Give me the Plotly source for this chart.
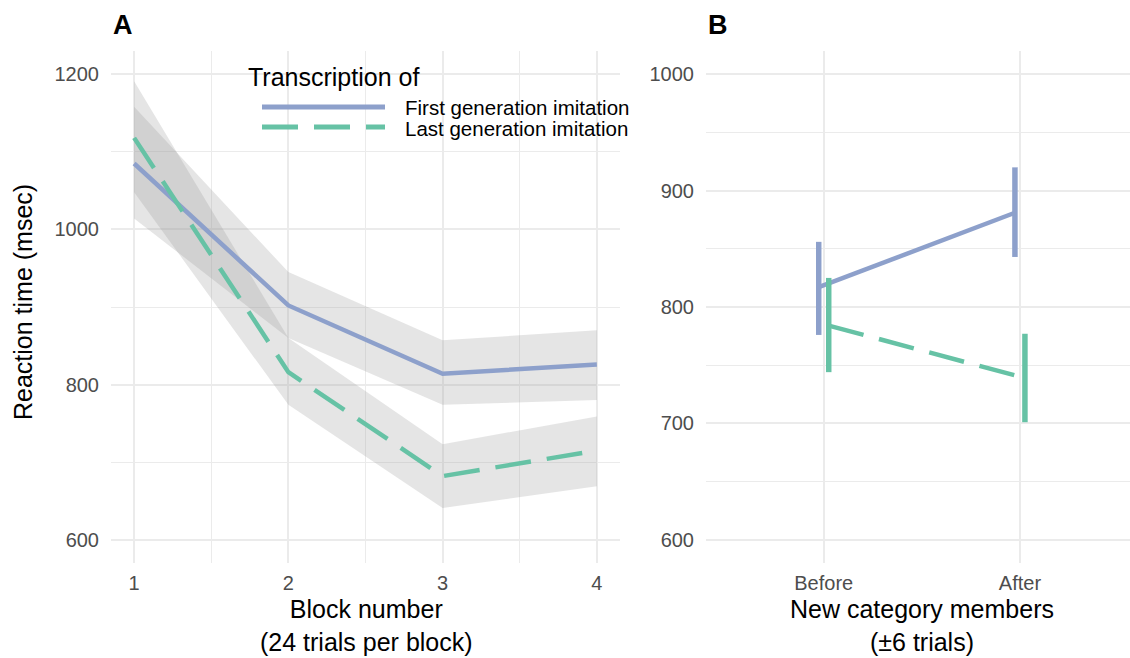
import plotly.graph_objects as go

# ---------------- data ----------------
blocks = [1, 2, 3, 4]
first_mean = [1085, 902, 814, 826]
first_lo = [1014, 860, 774, 780]
first_hi = [1158, 945, 857, 870]
last_mean = [1118, 816, 682, 715]
last_lo = [1048, 774, 641, 669]
last_hi = [1191, 860, 723, 759]

phases = ["Before", "After"]
b_first_mean = [817, 881]
b_first_lo = [776, 843]
b_first_hi = [856, 920]
b_last_mean = [784, 739]
b_last_lo = [744, 701]
b_last_hi = [825, 777]

series_names = ["First generation imitation", "Last generation imitation"]

# ---------------- style ----------------
W, H = 1130, 658
BLUE = "#8DA0CB"
GREEN = "#66C2A5"
RIBBON = "rgba(153,153,153,0.25)"
GRID = "#ebebeb"
FONT = "Liberation Sans, Arial, sans-serif"
DASH = "36px,16px"


def px_x(p):
    return p / W


def px_y(p):
    return 1 - p / H


fig = go.Figure()

# ribbons (panel A)
for lo, hi in [(first_lo, first_hi), (last_lo, last_hi)]:
    fig.add_trace(go.Scatter(
        x=blocks + blocks[::-1], y=hi + lo[::-1],
        fill="toself", fillcolor=RIBBON, line=dict(width=0),
        mode="lines", hoverinfo="skip", showlegend=False,
        xaxis="x", yaxis="y"))

# lines (panel A)
fig.add_trace(go.Scatter(x=blocks, y=first_mean, mode="lines", name=series_names[0],
                         line=dict(color=BLUE, width=4.5), showlegend=False,
                         xaxis="x", yaxis="y"))
fig.add_trace(go.Scatter(x=blocks, y=last_mean, mode="lines", name=series_names[1],
                         line=dict(color=GREEN, width=4.5, dash=DASH), showlegend=False,
                         xaxis="x", yaxis="y"))

# panel B: dodged positions around category index
cat_idx = list(range(1, len(phases) + 1))
dodge = 0.0255
for mean, lo, hi, col, dash, off in [
    (b_first_mean, b_first_lo, b_first_hi, BLUE, "solid", -dodge),
    (b_last_mean, b_last_lo, b_last_hi, GREEN, DASH, dodge),
]:
    fig.add_trace(go.Scatter(
        x=[c + off for c in cat_idx], y=mean, mode="lines",
        line=dict(color=col, width=4.5, dash=dash),
        error_y=dict(type="data", symmetric=False,
                     array=[h - m for h, m in zip(hi, mean)],
                     arrayminus=[m - l for m, l in zip(mean, lo)],
                     width=0, thickness=5.5, color=col),
        showlegend=False, xaxis="x2", yaxis="y2"))

# ---------------- layout ----------------
yd = [px_y(563), px_y(51)]
tickfont = dict(family=FONT, size=20, color="#4d4d4d")
common = dict(showline=False, zeroline=False, ticks="", gridcolor=GRID, gridwidth=1.8,
              tickfont=tickfont)

fig.update_layout(
    width=W, height=H, margin=dict(l=0, r=0, t=0, b=0),
    paper_bgcolor="white", plot_bgcolor="white",
    font=dict(family=FONT, color="black"),
    xaxis=dict(domain=[px_x(111), px_x(620)], range=[0.85, 4.15],
               tickvals=blocks, ticktext=[str(b) for b in blocks],
               minor=dict(showgrid=True, dtick=0.5, tick0=0.5, gridcolor=GRID, gridwidth=1.1),
               anchor="y", ticklabelstandoff=6, **common),
    yaxis=dict(domain=yd, range=[570, 1230], tick0=600, dtick=200,
               minor=dict(showgrid=True, dtick=100, tick0=600, gridcolor=GRID, gridwidth=1.1),
               anchor="x", ticklabelstandoff=11, **common),
    xaxis2=dict(domain=[px_x(706), 1.0], range=[0.4, 2.561],
                tickvals=cat_idx, ticktext=phases, anchor="y2", ticklabelstandoff=6, **common),
    yaxis2=dict(domain=yd, range=[580, 1020], tick0=600, dtick=100,
                minor=dict(showgrid=True, dtick=50, tick0=600, gridcolor=GRID, gridwidth=1.1),
                anchor="x2", ticklabelstandoff=11, **common),
)

ann = []
# panel tags
ann.append(dict(text="<b>A</b>", x=px_x(123), y=px_y(25), xref="paper", yref="paper",
                showarrow=False, font=dict(size=27, family=FONT, color="black"),
                xanchor="center", yanchor="middle"))
ann.append(dict(text="<b>B</b>", x=px_x(718), y=px_y(25), xref="paper", yref="paper",
                showarrow=False, font=dict(size=27, family=FONT, color="black"),
                xanchor="center", yanchor="middle"))
# axis titles
ann.append(dict(text="Reaction time (msec)", x=px_x(23), y=px_y(302), xref="paper", yref="paper",
                showarrow=False, textangle=-90, font=dict(size=25, family=FONT, color="black"),
                xanchor="center", yanchor="middle"))
ann.append(dict(text="Block number<br>(24 trials per block)", x=px_x(366), y=px_y(625),
                xref="paper", yref="paper", showarrow=False,
                font=dict(size=25, family=FONT, color="black"),
                xanchor="center", yanchor="middle"))
ann.append(dict(text="New category members<br>(±6 trials)", x=px_x(922), y=px_y(625),
                xref="paper", yref="paper", showarrow=False,
                font=dict(size=25, family=FONT, color="black"),
                xanchor="center", yanchor="middle"))
# legend (manual)
ann.append(dict(text="Transcription of", x=px_x(246), y=px_y(77), xref="paper", yref="paper",
                showarrow=False, font=dict(size=25, family=FONT, color="black"),
                xanchor="left", yanchor="middle"))
for i, (name, yy) in enumerate(zip(series_names, [107, 128])):
    ann.append(dict(text=name, x=px_x(403), y=px_y(yy), xref="paper", yref="paper",
                    showarrow=False, font=dict(size=20.5, family=FONT, color="black"),
                    xanchor="left", yanchor="middle"))
fig.update_layout(annotations=ann)

shapes = [
    dict(type="line", xref="paper", yref="paper", x0=px_x(262), x1=px_x(385),
         y0=px_y(107), y1=px_y(107), line=dict(color=BLUE, width=5)),
    dict(type="line", xref="paper", yref="paper", x0=px_x(262), x1=px_x(385),
         y0=px_y(127), y1=px_y(127), line=dict(color=GREEN, width=5, dash=DASH)),
]
fig.update_layout(shapes=shapes)

fig.write_html("out.html", config={"displayModeBar": False},
               post_script="document.body.style.margin='0';")
